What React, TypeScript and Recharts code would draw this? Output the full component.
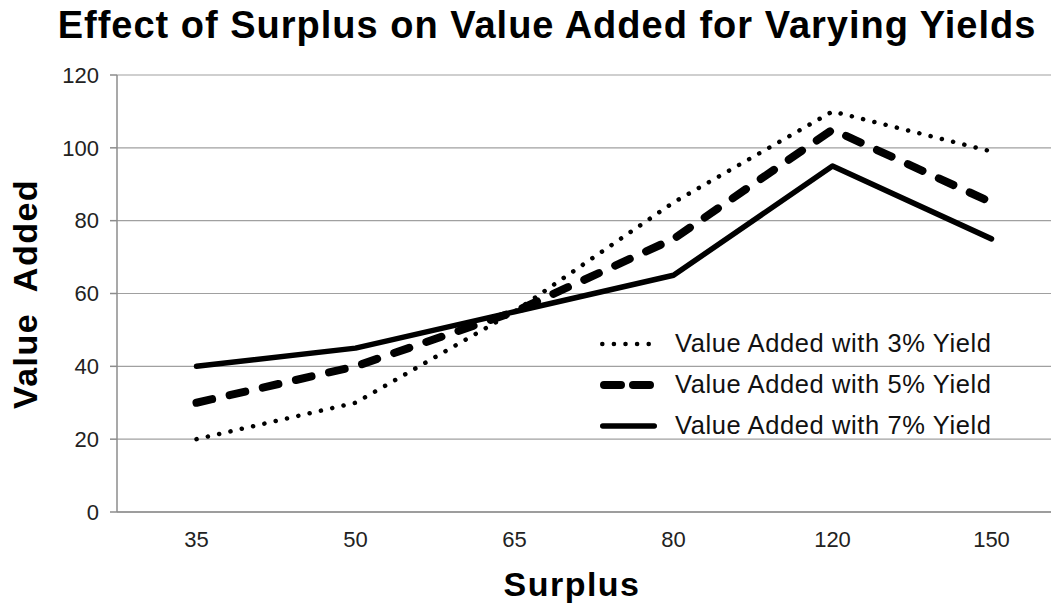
import { LineChart, Line, XAxis, YAxis, CartesianGrid, Legend } from "recharts";

const categories = ["35", "50", "65", "80", "120", "150"];
const yield3 = [20, 30, 55, 85, 110, 99];
const yield5 = [30, 40, 55, 75, 105, 85];
const yield7 = [40, 45, 55, 65, 95, 75];
const yTicks = [0, 20, 40, 60, 80, 100, 120];

const data = categories.map((surplus, i) => ({
  surplus,
  y3: yield3[i],
  y5: yield5[i],
  y7: yield7[i],
}));

const series = [
  { key: "y3", name: "Value Added with 3% Yield", width: 4.5, dash: "0.1 11.5" },
  { key: "y5", name: "Value Added with 5% Yield", width: 8, dash: "16 18" },
  { key: "y7", name: "Value Added with 7% Yield", width: 5.5, dash: undefined },
];

const font = "'Liberation Sans', Arial, sans-serif";

function LegendBox() {
  return (
    <div style={{ fontFamily: font }}>
      {series.map((s) => (
        <div key={s.key} style={{ display: "flex", alignItems: "center", height: 41 }}>
          <svg width={62} height={14} style={{ marginRight: 14 }}>
            <line
              x1={s.width / 2 + 1}
              y1={7}
              x2={58 - s.width / 2}
              y2={7}
              stroke="#000"
              strokeWidth={s.width}
              strokeLinecap="round"
              strokeDasharray={s.key === "y5" ? "17 12" : s.dash}
            />
          </svg>
          <span style={{ fontSize: 25.5, letterSpacing: 0.6, color: "#111" }}>{s.name}</span>
        </div>
      ))}
    </div>
  );
}

export default function App() {
  return (
    <div
      style={{
        position: "absolute",
        left: 0,
        top: 0,
        width: 1051,
        height: 608,
        overflow: "hidden",
        background: "#fff",
        fontFamily: font,
      }}
    >
      <div
        style={{
          position: "absolute",
          left: 0,
          top: 6,
          width: 1094,
          textAlign: "center",
          fontSize: 38,
          lineHeight: 1,
          fontWeight: "bold",
          letterSpacing: 1,
          color: "#000",
          whiteSpace: "nowrap",
        }}
      >
        Effect of Surplus on Value Added for Varying Yields
      </div>
      <div
        style={{
          position: "absolute",
          left: 25,
          top: 294,
          transform: "translate(-50%, -50%) rotate(-90deg)",
          fontSize: 34,
          lineHeight: 1,
          fontWeight: "bold",
          letterSpacing: 1.5,
          whiteSpace: "pre",
          color: "#000",
        }}
      >
        {"Value  Added"}
      </div>
      <div
        style={{
          position: "absolute",
          left: 472,
          width: 200,
          top: 567,
          textAlign: "center",
          fontSize: 34,
          lineHeight: 1,
          fontWeight: "bold",
          letterSpacing: 1.5,
          color: "#000",
        }}
      >
        Surplus
      </div>
      <LineChart
        width={1071}
        height={608}
        data={data}
        margin={{ top: 75, right: 0, left: 17, bottom: 0 }}
      >
        <CartesianGrid vertical={false} stroke="#a0a0a0" strokeWidth={1.2} />
        <XAxis
          dataKey="surplus"
          scale="band"
          height={96}
          tickLine={false}
          tickSize={6}
          tickMargin={13}
          axisLine={{ stroke: "#8c8c8c", strokeWidth: 1.5 }}
          tick={{ fill: "#222", fontSize: 22, fontFamily: font }}
        />
        <YAxis
          width={100}
          domain={[0, 120]}
          ticks={yTicks}
          interval={0}
          tickSize={7}
          tickMargin={11}
          axisLine={{ stroke: "#8c8c8c", strokeWidth: 1.5 }}
          tickLine={{ stroke: "#8c8c8c", strokeWidth: 1.5 }}
          tick={{ fill: "#222", fontSize: 22, fontFamily: font }}
        />
        <Legend
          layout="vertical"
          align="center"
          verticalAlign="middle"
          content={() => <LegendBox />}
          wrapperStyle={{ left: 599, top: 323, width: 440 }}
        />
        {series.map((s) => (
          <Line
            key={s.key}
            type="linear"
            dataKey={s.key}
            name={s.name}
            stroke="#000"
            strokeWidth={s.width}
            strokeDasharray={s.dash}
            strokeLinecap="round"
            strokeLinejoin="round"
            dot={false}
            activeDot={false}
            isAnimationActive={false}
          />
        ))}
      </LineChart>
    </div>
  );
}
